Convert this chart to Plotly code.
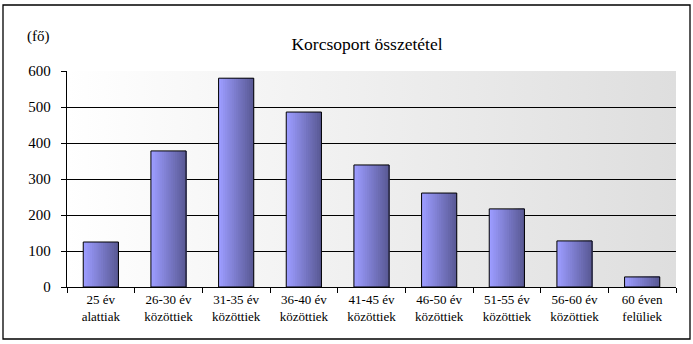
import base64
import plotly.graph_objects as go

categories = ["25 év<br>alattiak", "26-30 év<br>közöttiek", "31-35 év<br>közöttiek",
              "36-40 év<br>közöttiek", "41-45 év<br>közöttiek", "46-50 év<br>közöttiek",
              "51-55 év<br>közöttiek", "56-60 év<br>közöttiek", "60 éven<br>felüliek"]
values = [125, 378, 580, 486, 339, 261, 217, 128, 28]
y_ticks = [0, 100, 200, 300, 400, 500, 600]

W, H = 693, 344
ML, MR, MT, MB = 67, 17, 71, 57
PW, PH = W - ML - MR, H - MT - MB
FONT = "Liberation Serif"

fig = go.Figure()

# bar horizontal gradient: overlapping stripes, lighter on the left
bw = 0.52
n = 16
c0 = (0x9C, 0x9C, 0xFF)
c1 = (0x5A, 0x5A, 0x96)
for i in range(n):
    t = i / (n - 1)
    col = "rgb(%d,%d,%d)" % tuple(round(a + (b - a) * t) for a, b in zip(c0, c1))
    off = -bw / 2 + i * bw / n
    fig.add_trace(go.Bar(
        x=categories, y=values, width=bw / 2 - off, offset=off,
        marker=dict(color=col, line=dict(width=0)), hoverinfo="skip", showlegend=False))
fig.add_trace(go.Bar(
    x=categories, y=values, width=bw, offset=-bw / 2,
    marker=dict(color="rgba(0,0,0,0)", line=dict(color="black", width=1)),
    showlegend=False))

svg = ('<svg xmlns="http://www.w3.org/2000/svg" width="100" height="100" preserveAspectRatio="none">'
       '<defs><linearGradient id="g" x1="0" y1="0" x2="1" y2="0">'
       '<stop offset="0" stop-color="#ffffff"/><stop offset="1" stop-color="#dedede"/>'
       '</linearGradient></defs><rect width="100" height="100" fill="url(#g)"/></svg>')
uri = "data:image/svg+xml;base64," + base64.b64encode(svg.encode()).decode()
fig.add_layout_image(dict(source=uri, xref="paper", yref="paper", x=0, y=1,
                          sizex=1, sizey=1, sizing="stretch", layer="below",
                          xanchor="left", yanchor="top"))

fx0, fx1, fy0, fy1 = 3, 690, 5, 339
fig.add_shape(type="rect", xref="paper", yref="paper",
              x0=(fx0 - ML) / PW, x1=(fx1 - ML) / PW,
              y0=(H - MB - fy1) / PH, y1=(H - MB - fy0) / PH,
              line=dict(color="black", width=1.3), fillcolor="rgba(0,0,0,0)", layer="above")

fig.add_annotation(text="(fő)", xref="paper", yref="paper",
                   x=(38 - ML) / PW, y=(H - MB - 37) / PH, showarrow=False,
                   xanchor="center", yanchor="middle",
                   font=dict(family=FONT, size=15, color="black"))

fig.update_layout(
    width=W, height=H, margin=dict(l=ML, r=MR, t=MT, b=MB),
    paper_bgcolor="white", plot_bgcolor="rgba(0,0,0,0)",
    barmode="overlay",
    font=dict(family=FONT, size=13, color="black"),
    title=dict(text="Korcsoport összetétel", x=367 / W, xanchor="center",
               y=1 - 44 / H, yanchor="middle",
               font=dict(family=FONT, size=17.5, color="black")),
    xaxis=dict(type="category", tickson="boundaries", ticks="outside", ticklen=5,
               tickcolor="black", showline=True, linecolor="black", linewidth=1.3,
               showgrid=False, tickfont=dict(family=FONT, size=13), fixedrange=True),
    yaxis=dict(range=[0, 600], tickvals=y_ticks, ticks="outside", ticklen=5,
               tickcolor="black", showline=True, linecolor="black", linewidth=1.3,
               showgrid=True, gridcolor="black", gridwidth=1.3, zeroline=False,
               tickfont=dict(family=FONT, size=15), ticklabelstandoff=7),
)

fig.write_html("out.html")
